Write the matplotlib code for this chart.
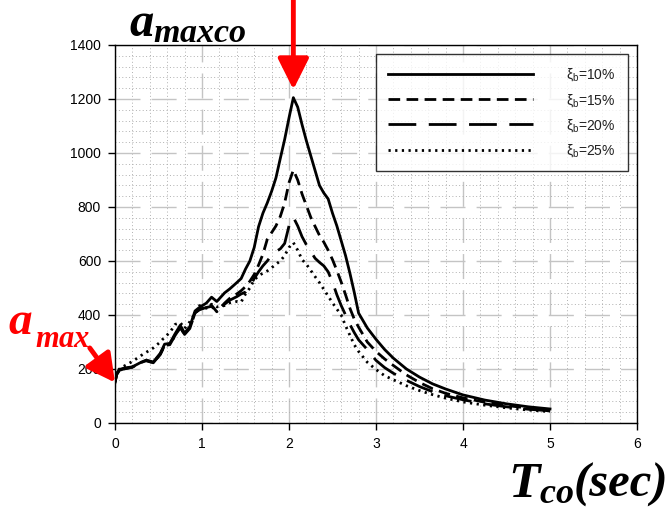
import matplotlib
matplotlib.use("Agg")
import matplotlib.pyplot as plt
from matplotlib.ticker import MultipleLocator

# ---------------- data ----------------
T = [0, 0.02, 0.05, 0.1, 0.2, 0.3, 0.36, 0.44, 0.52, 0.57, 0.63, 0.69, 0.75, 0.8,
     0.86, 0.92, 0.97, 1.05, 1.11, 1.17, 1.26, 1.32, 1.4, 1.45, 1.5, 1.55, 1.6,
     1.65, 1.7, 1.75, 1.8, 1.85, 1.9, 1.95, 2.0, 2.05, 2.1, 2.15, 2.2, 2.25, 2.3,
     2.35, 2.4, 2.45, 2.5, 2.55, 2.6, 2.65, 2.7, 2.75, 2.8, 2.9, 3.0, 3.1, 3.2,
     3.35, 3.5, 3.65, 3.8, 4.0, 4.25, 4.5, 4.75, 5.0]

xi10 = [150, 185, 198, 203, 208, 225, 233, 226, 258, 292, 295, 330, 362, 333,
        357, 415, 428, 444, 466, 450, 482, 497, 520, 535, 570, 600, 650,
        727, 777, 815, 858, 908, 980, 1050, 1130, 1205, 1170, 1105, 1045, 990, 935,
        880, 852, 830, 777, 730, 675, 620, 555, 484, 407, 352, 310, 272, 240,
        200, 170, 145, 126, 104, 85, 71, 60, 52]

xi15 = [150, 180, 195, 200, 207, 224, 231, 223, 254, 287, 290, 324, 354, 328,
        350, 408, 420, 430, 436, 412, 444, 462, 478, 490, 505, 525, 550,
        585, 625, 680, 705, 730, 765, 815, 890, 937, 900, 848, 805, 762, 728,
        695, 670, 640, 605, 565, 522, 475, 425, 385, 355, 300, 265, 237, 213,
        178, 150, 127, 110, 93, 77, 65, 55, 48]

xi20 = [152, 180, 195, 200, 207, 224, 231, 223, 254, 287, 290, 324, 354, 328,
        350, 408, 420, 428, 432, 412, 440, 455, 468, 478, 485, 505, 535,
        560, 582, 600, 622, 635, 645, 665, 730, 762, 730, 690, 660, 635, 610,
        595, 582, 560, 522, 475, 435, 400, 365, 335, 308, 272, 232, 205, 184,
        158, 135, 116, 101, 86, 71, 60, 51, 45]

xi25 = [175, 190, 200, 210, 228, 250, 262, 278, 300, 318, 335, 365, 372, 350,
        375, 405, 435, 425, 440, 430, 435, 445, 450, 448, 478, 500, 530,
        545, 555, 563, 575, 588, 600, 620, 650, 668, 640, 605, 588, 565, 542,
        520, 495, 470, 445, 422, 400, 360, 325, 290, 265, 225, 198, 175, 160,
        138, 120, 105, 92, 78, 66, 56, 48, 42]

labels = [r"$\mathregular{\xi_b}$=10%", r"$\mathregular{\xi_b}$=15%",
          r"$\mathregular{\xi_b}$=20%", r"$\mathregular{\xi_b}$=25%"]
xticks = [0, 1, 2, 3, 4, 5, 6]
yticks = [0, 200, 400, 600, 800, 1000, 1200, 1400]

# ---------------- figure ----------------
plt.rcParams['font.family'] = ['Liberation Sans', 'DejaVu Sans']
plt.rcParams['mathtext.fontset'] = 'custom'
plt.rcParams['mathtext.rm'] = 'Liberation Sans'
plt.rcParams['mathtext.it'] = 'Liberation Serif:italic:bold'

fig = plt.figure(figsize=(6.7, 5.14), dpi=100)
ax = fig.add_axes([115 / 670, 1 - 423 / 514, 522 / 670, 378 / 514])

lw = 2.0
ax.plot(T, xi10, color='black', lw=lw, ls='-', label=labels[0])
ax.plot(T, xi15, color='black', lw=lw, ls=(0, (4.2, 2.3)), label=labels[1])
ax.plot(T, xi20, color='black', lw=lw, ls=(0, (10, 4.5)), label=labels[2])
ax.plot(T, xi25, color='black', lw=lw, ls=(0, (0.8, 1.6)), label=labels[3])

ax.set_xlim(0, 6)
ax.set_ylim(0, 1400)
ax.set_xticks(xticks)
ax.set_yticks(yticks)
ax.xaxis.set_minor_locator(MultipleLocator(0.2))
ax.yaxis.set_minor_locator(MultipleLocator(40))
ax.tick_params(which='major', direction='out', length=5, width=1, labelsize=10,
               pad=5, colors='black')
ax.tick_params(which='minor', length=0)
ax.grid(which='minor', color='#b0b0b0', lw=0.7, ls=(0, (1, 2.5)))
ax.grid(which='major', color='#c4c4c4', lw=1.0, ls=(0, (18, 8)))
ax.set_axisbelow(True)
for s in ax.spines.values():
    s.set_linewidth(1.0)
    s.set_color('black')

leg = ax.legend(loc='upper right', bbox_to_anchor=(0.983, 0.976), fontsize=10,
                handlelength=10.4, handletextpad=2.4, labelspacing=0.6,
                borderpad=0.9, frameon=True, fancybox=False, borderaxespad=0)
leg.get_frame().set_edgecolor('black')
leg.get_frame().set_linewidth(1.0)
for t in leg.get_texts():
    t.set_color('#222222')

# ---------------- annotations ----------------
serif = dict(family='Liberation Serif', weight='bold', style='italic')
fig.text(129 / 670, 1 - 36 / 514, r'$a_{maxco}$', fontsize=35, color='black',
         va='baseline')
fig.text(8 / 670, 1 - 334 / 514, r'$a$', fontsize=34, color='red',
         va='baseline')
fig.text(35 / 670, 1 - 347 / 514, r'$max$', fontsize=22, color='red',
         va='baseline')
fig.text(508 / 670, 1 - 497 / 514, r'$T_{co}$', fontsize=37, color='black',
         va='baseline')
fig.text(574 / 670, 1 - 497 / 514, '(sec)', fontsize=35, color='black',
         va='baseline', **serif)

peak_T = T[xi10.index(max(xi10))]
ax.annotate('', xy=(peak_T, max(xi10) + 30), xytext=(peak_T, 1580),
            xycoords='data', textcoords='data', annotation_clip=False,
            arrowprops=dict(arrowstyle='-|>,head_length=1.9,head_width=0.95',
                            color='red', lw=3.5, shrinkA=0, shrinkB=0))
ax.annotate('', xy=(T[0], xi10[0]), xytext=(-0.29, 278),
            xycoords='data', textcoords='data', annotation_clip=False,
            arrowprops=dict(arrowstyle='-|>,head_length=1.7,head_width=0.9',
                            color='red', lw=3.5, shrinkA=0, shrinkB=0))

fig.savefig('out.png', dpi=100)
